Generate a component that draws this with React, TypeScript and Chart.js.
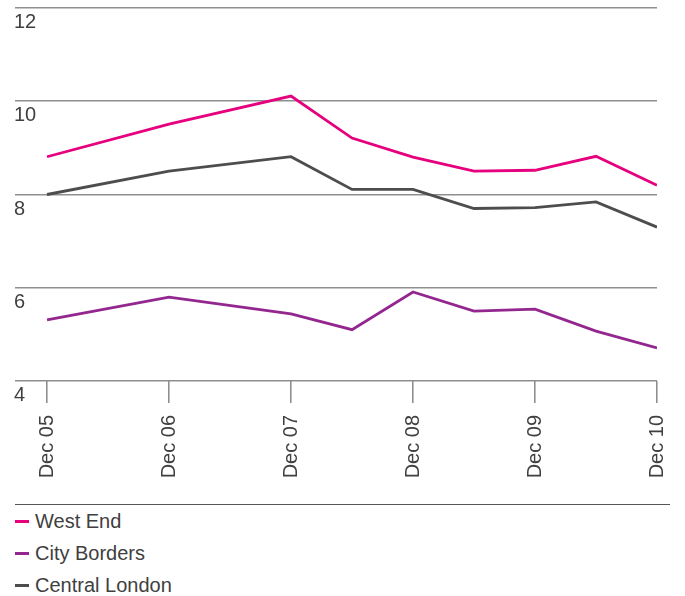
import React, { useEffect, useRef } from "react";
import { Chart, registerables } from "chart.js";

Chart.register(...registerables);

// Half-year index since Dec 05 for each observation
const periodIndex = [0, 2, 4, 5, 6, 7, 8, 9, 10];
const periodLabels = ["Dec 05", "Dec 06", "Dec 07", "Jun 08", "Dec 08", "Jun 09", "Dec 09", "Jun 10", "Dec 10"];

const xTickValues = [0, 2, 4, 6, 8, 10];
const xTickLabels = ["Dec 05", "Dec 06", "Dec 07", "Dec 08", "Dec 09", "Dec 10"];
const yTickValues = [4, 6, 8, 10, 12];

const westEnd = [8.81, 9.51, 10.11, 9.21, 8.8, 8.5, 8.52, 8.82, 8.2];
const cityBorders = [5.31, 5.8, 5.44, 5.1, 5.91, 5.5, 5.54, 5.07, 4.71];
const centralLondon = [8.0, 8.5, 8.81, 8.11, 8.11, 7.7, 7.72, 7.84, 7.3];

const seriesNames = ["West End", "City Borders", "Central London"];
const seriesColors = ["#e6007e", "#93278f", "#4d4d4d"];
const seriesValues = [westEnd, cityBorders, centralLondon];

const FONT = "'Liberation Sans', Arial, Helvetica, sans-serif";
const TEXT = "#404040";
const GRID = "#8f8f8f";

const yLabelPlugin = {
  id: "yLabels",
  afterDraw(chart: any) {
    const { ctx, chartArea, scales } = chart;
    const y = scales.y;
    ctx.save();
    ctx.font = `20px ${FONT}`;
    ctx.fillStyle = TEXT;
    ctx.textAlign = "left";
    ctx.textBaseline = "alphabetic";
    y.ticks.forEach((t: any) => {
      const py = y.getPixelForValue(t.value);
      ctx.fillText(String(t.value), chartArea.left - 1, py + 20);
    });
    ctx.restore();
  },
};

export default function App() {
  const ref = useRef<HTMLCanvasElement>(null);

  useEffect(() => {
    if (!ref.current) return;
    const datasets = seriesNames.map((name, i) => ({
      label: name,
      data: periodIndex.map((x, j) => ({ x, y: seriesValues[i][j], period: periodLabels[j] })),
      borderColor: seriesColors[i],
      backgroundColor: seriesColors[i],
      borderWidth: 2.8,
      pointRadius: 0,
      tension: 0,
      fill: false,
    }));
    const chart = new Chart(ref.current, {
      type: "line",
      data: { datasets },
      plugins: [yLabelPlugin],
      options: {
        responsive: false,
        animation: false,
        layout: { padding: { left: 15, right: 28, top: 8, bottom: 0 } },
        plugins: { legend: { display: false }, tooltip: { enabled: false } },
        scales: {
          x: {
            type: "linear",
            min: -0.525,
            max: 10,
            border: { display: false },
            grid: {
              drawOnChartArea: false,
              drawTicks: true,
              tickLength: 22,
              color: GRID,
              lineWidth: 1.6,
            },
            ticks: {
              autoSkip: false,
              minRotation: 90,
              maxRotation: 90,
              padding: 12,
              color: TEXT,
              font: { family: FONT, size: 20 },
              callback: (v: any) => {
                const i = xTickValues.indexOf(Number(v));
                return i >= 0 ? xTickLabels[i] : "";
              },
            },
            afterBuildTicks: (s: any) => {
              s.ticks = xTickValues.map((v) => ({ value: v }));
            },
            afterFit: (s: any) => {
              s.height = 119;
              s.paddingLeft = 0;
              s.paddingRight = 0;
            },
          },
          y: {
            min: 4,
            max: 12,
            border: { display: false },
            grid: { color: GRID, lineWidth: 1.6, drawTicks: false },
            ticks: { display: false },
            afterBuildTicks: (s: any) => {
              s.ticks = yTickValues.map((v) => ({ value: v }));
            },
            afterFit: (s: any) => {
              s.width = 0;
              s.paddingTop = 0;
              s.paddingBottom = 0;
            },
          },
        },
      },
    });
    return () => chart.destroy();
  }, []);

  return (
    <div style={{ position: "absolute", left: 0, top: 0, width: 685, height: 596, background: "#fff", fontFamily: FONT }}>
      <canvas ref={ref} width={685} height={500} style={{ position: "absolute", left: 0, top: 0 }} />
      <div
        style={{
          position: "absolute",
          left: 15,
          top: 504,
          width: 655,
          borderTop: "1.5px solid #555",
        }}
      >
        {seriesNames.map((name, i) => (
          <div key={name} style={{ display: "flex", alignItems: "center", height: 32, fontSize: 20, color: TEXT }}>
            <span style={{ display: "inline-block", width: 14, height: 2.6, background: seriesColors[i], marginRight: 6, marginTop: 1 }} />
            <span>{name}</span>
          </div>
        ))}
      </div>
    </div>
  );
}
